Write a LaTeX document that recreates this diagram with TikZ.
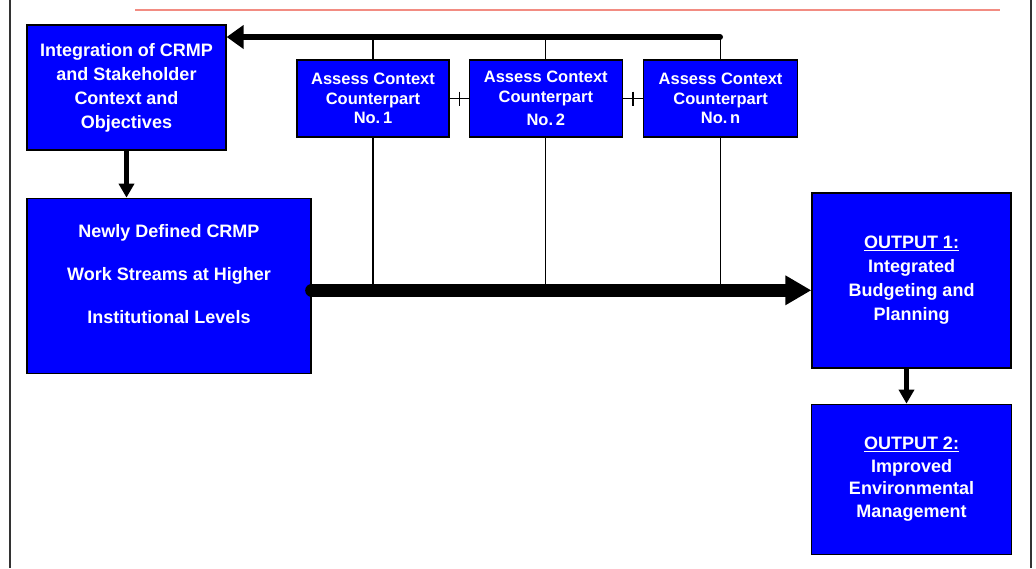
\documentclass[tikz,border=0pt]{standalone}
\usepackage{fontspec}
\setmainfont{Liberation Sans}
\usetikzlibrary{positioning,arrows.meta}
\definecolor{boxblue}{RGB}{0,0,255}
\definecolor{rulered}{RGB}{242,140,130}
\tikzset{
  block/.style={draw=black,line width=1.3pt,fill=boxblue,text=white,align=center,
                inner sep=2pt,font=\bfseries\fontsize{18}{24}\selectfont},
  block2/.style={block,minimum width=152pt,minimum height=77pt,
                 font=\bfseries\fontsize{16.5}{19.5}\selectfont},
  dnarr/.style={-{Triangle[length=14pt,width=15pt]},line width=4.5pt},
  toparr/.style={-{Triangle[length=17pt,width=23pt]},line width=6pt,line cap=round},
  bigarr/.style={-{Triangle[length=26pt,width=28pt]},line width=13pt,line cap=round},
  link/.style={line width=1.2pt}
}
\begin{document}
\begin{tikzpicture}[x=1pt,y=-1pt]
\useasboundingbox (0,0) rectangle (1036,568);
\draw[line width=1.3pt,black!80] (10,0) -- (10,568) (1031,0) -- (1031,568);
\draw[line width=1.3pt,rulered] (135,10) -- (1000,10);

\node[block,minimum width=199pt,minimum height=125pt] (integ) at (126.5,87.5)
  {Integration of CRMP\\and Stakeholder\\Context and\\Objectives};
\node[block,minimum width=284pt,minimum height=175pt,below=47pt of integ.south west,
      anchor=north west,font=\bfseries\fontsize{18}{43}\selectfont,text depth=24pt] (newly)
  {Newly Defined CRMP\\Work Streams at Higher\\Institutional Levels};
\node[block2] (as1) at (373,98.5) {Assess Context\\Counterpart\\No.\,1};
\node[block2,right=19pt of as1,minimum width=153pt] (as2) {Assess Context\\Counterpart\\[4pt]No.\,2};
\node[block2,right=20pt of as2,minimum width=154pt] (as3) {Assess Context\\Counterpart\\No.\,n};
\node[block,minimum width=199pt,minimum height=175pt] (out1) at (911.5,280.5)
  {\underline{OUTPUT 1:}\\Integrated\\Budgeting and\\Planning};
\node[block,minimum width=200pt,minimum height=150pt,below=35pt of out1,
      font=\bfseries\fontsize{18}{22.5}\selectfont] (out2)
  {\underline{OUTPUT 2:}\\Improved\\Environmental\\Management};

\coordinate (tl) at (720,37);
\draw[toparr] (tl) -- (tl -| integ.east);
\draw[dnarr] (integ.south) -- (integ.south |- newly.north);
\draw[bigarr] ([yshift=-4.5pt]newly.east) coordinate (ms) -- (ms -| out1.west);
\draw[dnarr] ([xshift=-5pt]out1.south) coordinate (os) -- (os |- out2.north);

\foreach \b in {as1,as2,as3}{
  \draw[link] (\b.north |- tl) -- (\b.north);
  \draw[link] (\b.south) -- (\b.south |- ms);
}
\draw[link] (as1.east) -- (as2.west) coordinate[midway] (p1);
\draw[link] ([yshift=7pt]p1) -- ([yshift=-7pt]p1);
\draw[link] (as2.east) -- (as3.west) coordinate[midway] (p2);
\draw[link] ([yshift=7pt]p2) -- ([yshift=-7pt]p2);
\end{tikzpicture}
\end{document}
